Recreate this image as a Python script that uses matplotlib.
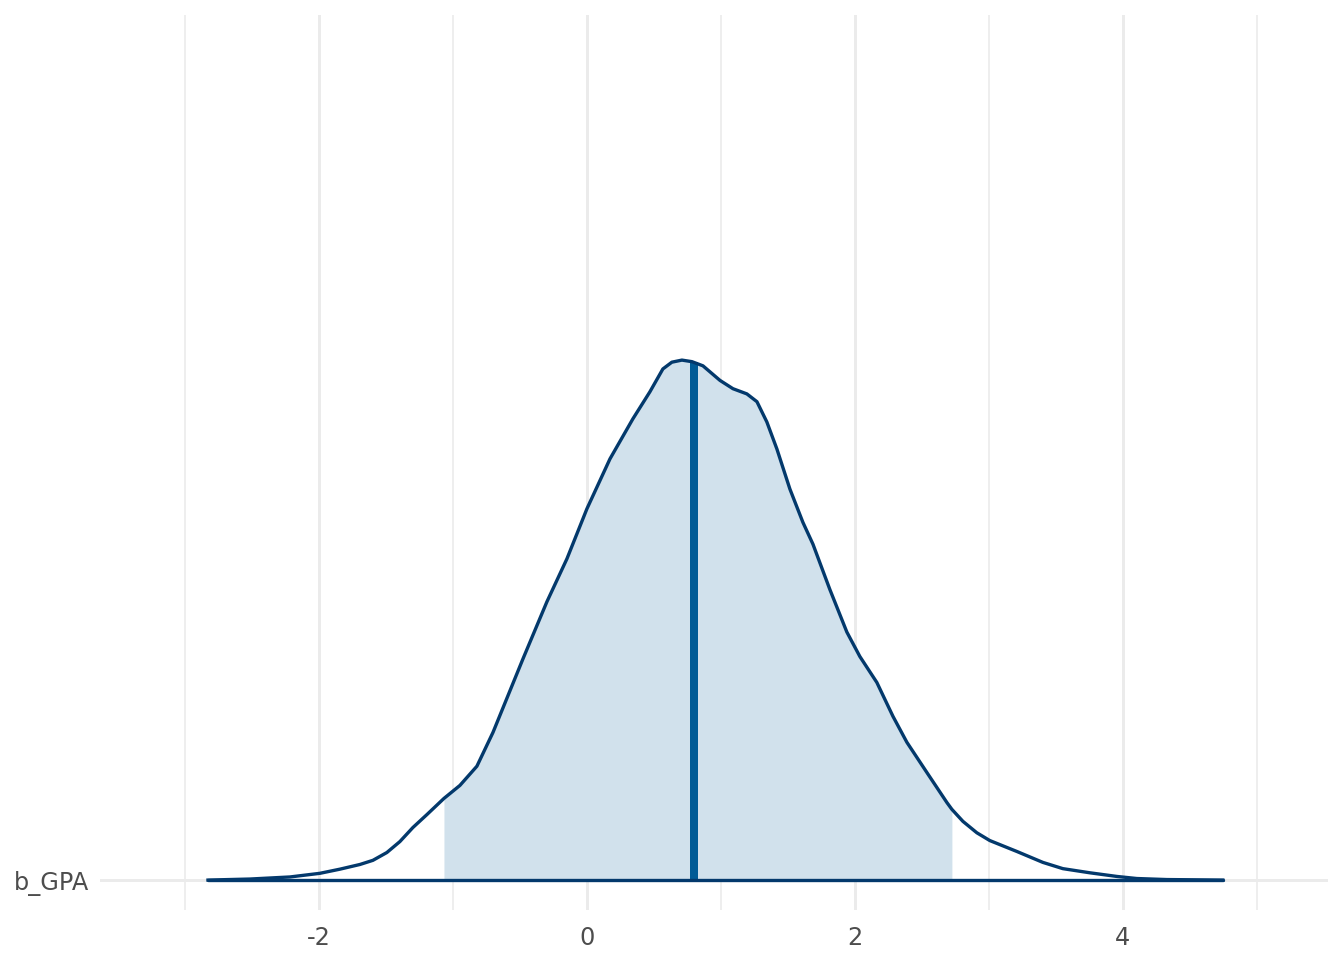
#!/usr/bin/env python3

"""
Posterior area plot for b_GPA (bayesplot mcmc_areas style).
Density values read off the reference picture, scaled so the peak is ~1.
"""

import matplotlib
matplotlib.use("Agg")
import matplotlib.pyplot as plt
import numpy as np

# density curve of b_GPA (x = parameter value, h = scaled density)
dens_x = [-2.828, -2.515, -2.216, -1.993, -1.843, -1.694, -1.597, -1.493,
          -1.396, -1.299, -1.194, -1.067, -0.948, -0.821, -0.701, -0.478,
          -0.299, -0.149, 0.000, 0.172, 0.343, 0.470, 0.567, 0.634,
          0.709, 0.784, 0.866, 0.993, 1.090, 1.194, 1.269, 1.343, 1.418,
          1.515, 1.612, 1.687, 1.813, 1.940, 2.037, 2.164, 2.284,
          2.388, 2.537, 2.687, 2.724, 2.806, 2.910, 3.007, 3.209,
          3.403, 3.552, 3.754, 3.955, 4.104, 4.328, 4.746]
dens_h = [0.000, 0.002, 0.006, 0.013, 0.021, 0.030, 0.038, 0.053,
          0.074, 0.101, 0.126, 0.157, 0.182, 0.219, 0.284, 0.425,
          0.535, 0.618, 0.714, 0.810, 0.887, 0.939, 0.983, 0.996,
          1.000, 0.997, 0.989, 0.961, 0.945, 0.935, 0.920, 0.881, 0.829,
          0.752, 0.688, 0.646, 0.559, 0.477, 0.430, 0.380, 0.315,
          0.265, 0.207, 0.149, 0.136, 0.113, 0.091, 0.076, 0.055,
          0.034, 0.022, 0.014, 0.007, 0.003, 0.001, 0.000]

# shaded interval and point estimate
interval = (-1.067, 2.724)
median = 0.80
median_h = 0.996

param_label = "b_GPA"
major_ticks = [-2, 0, 2, 4]
minor_ticks = [-3, -1, 1, 3, 5]

# bayesplot "blue" colour scheme
light = "#d1e1ec"
mid_highlight = "#005b96"
dark = "#03396c"
grid_col = "#ebebeb"
text_col = "#4d4d4d"


def main():
    x = np.array(dens_x)
    h = np.array(dens_h)

    fig = plt.figure(figsize=(7, 5), dpi=192)
    ax = fig.add_axes([0.0744, 0.052, 0.9136, 0.932])

    # grid
    for t in minor_ticks:
        ax.axvline(t, color=grid_col, lw=0.6, zorder=0)
    for t in major_ticks:
        ax.axvline(t, color=grid_col, lw=1.1, zorder=0)
    ax.axhline(0, color=grid_col, lw=1.1, zorder=0)

    # shaded central interval
    inside = (x >= interval[0]) & (x <= interval[1])
    ax.fill_between(x[inside], 0, h[inside], color=light, lw=0, zorder=1)

    # point estimate
    ax.plot([median, median], [0, median_h], color=mid_highlight,
            lw=3.0, solid_capstyle="butt", zorder=2)

    # outline and baseline
    ax.plot(x, h, color=dark, lw=1.25, solid_joinstyle="round", zorder=3)
    ax.plot([x[0], x[-1]], [0, 0], color=dark, lw=1.25,
            solid_capstyle="round", zorder=3)

    ax.set_xlim(-3.634, 5.530)
    ax.set_ylim(-0.0577, 1.663)

    ax.set_xticks(major_ticks)
    ax.set_xticklabels([str(t) for t in major_ticks])
    ax.set_yticks([0])
    ax.set_yticklabels([param_label])
    ax.tick_params(axis="both", length=0, labelsize=9, colors=text_col)
    ax.tick_params(axis="x", pad=6)
    ax.tick_params(axis="y", pad=4)
    for spine in ax.spines.values():
        spine.set_visible(False)

    fig.savefig("out.png", dpi=192, facecolor="white")


if __name__ == "__main__":
    main()
